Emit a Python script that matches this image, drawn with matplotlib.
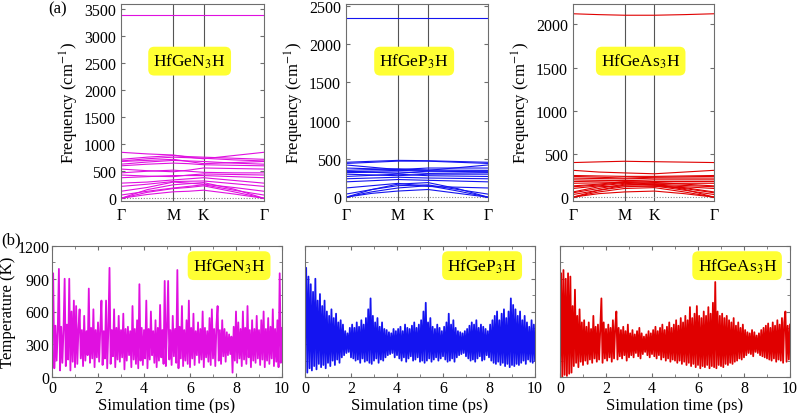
import numpy as np
import matplotlib
matplotlib.use("Agg")
import matplotlib.pyplot as plt
from matplotlib import font_manager
from matplotlib.ticker import MultipleLocator

serif_name = None
for p in font_manager.findSystemFonts():
    base = p.replace("\\", "/").split("/")[-1].lower()
    if "liberationserif" in base.replace("-", "").replace(" ", ""):
        try:
            font_manager.fontManager.addfont(p)
            if "regular" in base:
                serif_name = font_manager.FontProperties(fname=p).get_name()
        except Exception:
            pass
fams = ([serif_name] if serif_name else []) + ['Liberation Serif', 'DejaVu Serif']
plt.rcParams['font.family'] = 'serif'
plt.rcParams['font.serif'] = fams
plt.rcParams['mathtext.fontset'] = 'stix'

# ---------------- data ----------------
materials = ["HfGeN$_3$H", "HfGeP$_3$H", "HfGeAs$_3$H"]
colors = ["#e010e0", "#1414f0", "#e00000"]

kpath_labels = ["Γ", "M", "K", "Γ"]
# values given at: Γ, ΓM/2, M, MK/2, K, KΓ/2, Γ
bands_N3H = [
    [0, 70, 120, 130, 150, 80, 0],
    [0, 110, 180, 200, 230, 120, 0],
    [0, 160, 250, 270, 290, 170, 0],
    [60, 130, 190, 220, 250, 150, 60],
    [130, 200, 300, 280, 260, 200, 130],
    [220, 260, 310, 315, 320, 270, 220],
    [280, 300, 340, 360, 380, 330, 280],
    [380, 400, 420, 420, 420, 400, 380],
    [430, 410, 400, 430, 450, 440, 430],
    [470, 500, 520, 500, 480, 470, 470],
    [540, 510, 490, 520, 560, 550, 540],
    [600, 630, 650, 640, 620, 610, 600],
    [630, 670, 700, 690, 680, 650, 630],
    [680, 700, 720, 680, 640, 660, 680],
    [690, 730, 760, 750, 740, 710, 690],
    [720, 760, 790, 770, 760, 740, 720],
    [850, 820, 800, 760, 730, 790, 850],
    [3395, 3395, 3395, 3395, 3395, 3395, 3395],
]
bands_P3H = [
    [0, 50, 80, 90, 100, 50, 0],
    [0, 70, 120, 135, 150, 80, 0],
    [0, 100, 170, 180, 190, 110, 0],
    [40, 100, 150, 155, 160, 100, 40],
    [120, 150, 180, 160, 140, 130, 120],
    [200, 215, 230, 225, 220, 210, 200],
    [240, 250, 260, 255, 250, 245, 240],
    [270, 285, 300, 290, 280, 275, 270],
    [300, 290, 280, 290, 300, 300, 300],
    [320, 325, 330, 320, 310, 315, 320],
    [330, 340, 350, 345, 340, 335, 330],
    [340, 325, 310, 325, 340, 340, 340],
    [350, 360, 370, 360, 355, 352, 350],
    [380, 370, 360, 370, 380, 380, 380],
    [420, 390, 360, 355, 350, 385, 420],
    [440, 455, 470, 470, 470, 455, 440],
    [455, 468, 480, 478, 475, 465, 455],
    [2340, 2340, 2340, 2340, 2340, 2340, 2340],
]
bands_As3H = [
    [0, 40, 60, 65, 70, 40, 0],
    [0, 60, 100, 105, 110, 60, 0],
    [0, 80, 140, 145, 150, 90, 0],
    [30, 80, 120, 125, 130, 80, 30],
    [50, 100, 150, 145, 140, 100, 50],
    [60, 120, 130, 128, 125, 110, 60],
    [100, 130, 160, 150, 140, 120, 100],
    [120, 140, 170, 160, 150, 135, 120],
    [130, 150, 180, 175, 170, 150, 130],
    [160, 165, 170, 165, 160, 160, 160],
    [180, 185, 190, 185, 180, 180, 180],
    [200, 195, 190, 195, 200, 200, 200],
    [220, 215, 210, 215, 220, 220, 220],
    [240, 230, 220, 225, 230, 235, 240],
    [250, 245, 240, 240, 240, 245, 250],
    [310, 290, 280, 275, 270, 290, 310],
    [400, 408, 415, 412, 410, 405, 400],
    [2122, 2112, 2105, 2105, 2105, 2112, 2122],
]
freq_ylims = [(-50, 3590), (-50, 2520), (-45, 2235)]
freq_ymax_tick = [3500, 2500, 2000]

temp_N3H = [
    300, 950, 80, 470, 150, 420, 990, 60, 460, 130, 430, 900, 100, 480, 160, 900, 60, 600, 140, 700, 90,
    650, 120, 440, 620, 170, 430, 100, 560, 150, 420, 200, 810, 130, 450, 170, 620, 90, 430, 180, 500,
    140, 450, 700, 110, 420, 170, 700, 80, 440, 1000, 120, 430, 190, 620, 90, 450, 160, 560, 140, 430,
    180, 580, 70, 440, 150, 460, 200, 420, 90, 650, 160, 440, 120, 520, 80, 850, 150, 450, 110, 430,
    170, 700, 80, 440, 160, 600, 200, 420, 130, 520, 90, 450, 150, 660, 180, 430, 120, 880, 100, 450,
    880, 160, 430, 110, 560, 190, 440, 130, 980, 80, 460, 170, 650, 100, 430, 150, 520, 120, 700, 90,
    450, 170, 580, 110, 420, 200, 500, 130, 440, 160, 600, 90, 450, 180, 420, 140, 540, 110, 620, 170,
    440, 100, 480, 650, 150, 430, 120, 520, 190, 440, 140, 410, 200, 390, 210, 370, 40, 460, 150, 600,
    130, 500, 170, 440, 100, 600, 160, 450, 120, 650, 180, 430, 90, 520, 150, 440, 130, 560, 170, 430,
    110, 520, 160, 600, 90, 440, 150, 540, 120, 460, 170, 620, 100, 440, 140, 520, 90, 950, 130, 450,
]
temp_P3H = [
    300, 1000, 40, 920, 80, 850, 60, 780, 100, 900, 70, 700, 120, 760, 90, 650, 110, 700, 80, 600, 130,
    560, 100, 620, 150, 540, 110, 580, 160, 500, 130, 520, 180, 480, 200, 420, 220, 400, 230, 450, 180,
    480, 170, 450, 150, 500, 160, 460, 130, 520, 170, 480, 140, 540, 150, 620, 130, 720, 120, 560, 150,
    500, 170, 540, 130, 460, 160, 500, 150, 440, 180, 430, 200, 410, 210, 400, 220, 440, 180, 420, 200,
    440, 170, 460, 150, 420, 180, 480, 140, 450, 170, 440, 190, 470, 150, 500, 160, 450, 180, 480, 140,
    520, 150, 600, 130, 680, 150, 500, 170, 540, 140, 460, 160, 440, 180, 480, 150, 450, 170, 420, 190,
    460, 160, 500, 140, 580, 150, 480, 170, 520, 140, 450, 180, 420, 200, 410, 210, 400, 220, 420, 190,
    440, 170, 470, 150, 500, 160, 480, 140, 520, 170, 450, 190, 480, 150, 460, 160, 440, 200, 420, 180,
    480, 150, 520, 130, 560, 120, 600, 140, 520, 110, 580, 130, 620, 100, 540, 120, 600, 90, 720, 110,
    660, 100, 620, 120, 560, 110, 600, 130, 520, 150, 560, 120, 500, 160, 460, 140, 520, 130, 480, 150,
]
temp_As3H = [
    0, 950, 0, 980, 20, 900, 10, 950, 30, 920, 40, 650, 100, 800, 130, 560, 90, 620, 140, 500, 110,
    520, 150, 460, 120, 500, 160, 440, 130, 560, 170, 460, 140, 480, 160, 450, 720, 130, 500, 170, 440,
    150, 480, 180, 450, 140, 520, 170, 460, 600, 160, 450, 190, 430, 170, 460, 200, 420, 150, 480, 180,
    400, 200, 430, 180, 390, 220, 420, 190, 450, 170, 400, 210, 370, 230, 390, 200, 420, 180, 400, 210,
    430, 190, 460, 170, 420, 200, 450, 160, 480, 180, 430, 150, 460, 170, 500, 140, 450, 160, 480, 150,
    520, 130, 470, 150, 540, 120, 500, 140, 560, 110, 520, 130, 640, 100, 540, 120, 580, 90, 650, 110,
    560, 80, 540, 100, 600, 90, 560, 110, 640, 80, 580, 100, 680, 90, 870, 80, 600, 110, 560, 100,
    580, 90, 540, 120, 560, 110, 520, 130, 500, 120, 540, 140, 470, 150, 500, 170, 450, 160, 480, 180,
    430, 200, 410, 220, 400, 210, 430, 190, 410, 230, 380, 220, 400, 200, 430, 190, 450, 180, 470, 170,
    490, 160, 450, 150, 500, 170, 470, 140, 520, 160, 480, 150, 540, 130, 500, 600, 140, 470, 160, 480,
]
sim_time_max = 10.0

# ---------------- figure ----------------
W, H = 797, 414
fig = plt.figure(figsize=(W / 100, H / 100), dpi=100)

spine_col = "#6e6e6e"
FS_TICK = 11.5
FS_LAB = 12
box = dict(boxstyle="round,pad=0.3,rounding_size=0.35", fc="#ffff33", ec="none")

# k-path coordinates (Γ-M : M-K : K-Γ = 1/√3 : 1/3 : 2/3)
seg = np.array([1 / np.sqrt(3), 1 / 3, 2 / 3])
nodes = np.concatenate([[0], np.cumsum(seg)])
nodes = nodes / nodes[-1]
kx = np.array([nodes[0], (nodes[0] + nodes[1]) / 2, nodes[1], (nodes[1] + nodes[2]) / 2,
               nodes[2], (nodes[2] + nodes[3]) / 2, nodes[3]])

top_rects = [(121, 143), (346, 142), (573, 141)]
all_bands = [bands_N3H, bands_P3H, bands_As3H]
for i in range(3):
    l, w = top_rects[i]
    ax = fig.add_axes([l / W, (H - 202) / H, w / W, 197 / H])
    for b in all_bands[i]:
        ax.plot(kx, b, color=colors[i], lw=0.8)
    for xv in nodes[1:3]:
        ax.axvline(xv, color="#555555", lw=0.8, zorder=0)
    ax.axhline(0, color="#888888", lw=0.8, ls=(0, (1, 1.5)), zorder=0)
    ax.set_xlim(0, 1)
    ax.set_ylim(*freq_ylims[i])
    ax.set_xticks(nodes)
    ax.set_xticklabels(kpath_labels, fontsize=FS_TICK)
    ax.set_yticks(np.arange(0, freq_ymax_tick[i] + 1, 500))
    ax.tick_params(axis='y', direction='in', right=True, labelsize=FS_TICK, length=3,
                   color=spine_col)
    ax.tick_params(axis='x', length=0, pad=4)
    ax.set_ylabel("Frequency (cm$^{-1}$)", fontsize=FS_LAB, labelpad=2)
    for s in ax.spines.values():
        s.set_color(spine_col)
    ax.text(0.48, 0.71, materials[i], transform=ax.transAxes, ha="center", va="center",
            fontsize=12.5, bbox=box)

bot_lefts = [52, 305, 560]
temps = [temp_N3H, temp_P3H, temp_As3H]
for i in range(3):
    ax = fig.add_axes([bot_lefts[i] / W, (H - 378) / H, 230 / W, 131 / H])
    y = np.array(temps[i], dtype=float)
    t = np.linspace(0, sim_time_max, len(y))
    ax.plot(t, y, color=colors[i], lw=1.3)
    ax.set_xlim(0, 10)
    ax.set_ylim(0, 1200)
    ax.set_xticks(np.arange(0, 11, 2))
    ax.xaxis.set_minor_locator(MultipleLocator(1))
    ax.set_yticks(np.arange(0, 1201, 300))
    ax.yaxis.set_minor_locator(MultipleLocator(150))
    ax.tick_params(which='both', direction='in', top=True, right=True, labelsize=FS_TICK,
                   color=spine_col, pad=2)
    ax.tick_params(which='major', length=3)
    ax.tick_params(which='minor', length=2)
    if i == 0:
        ax.set_ylabel("Temperature (K)", fontsize=FS_LAB, labelpad=1)
    else:
        ax.set_yticklabels([])
    ax.set_xlabel("Simulation time (ps)", fontsize=FS_LAB, labelpad=1)
    for s in ax.spines.values():
        s.set_color(spine_col)
    ax.text(0.77, 0.85, materials[i], transform=ax.transAxes, ha="center", va="center",
            fontsize=12.5, bbox=box)

fig.text(58 / W, 1 - 9 / H, "(a)", fontsize=12, ha="center", va="center")
fig.text(1 / W, 1 - 240 / H, "(b)", fontsize=12, ha="left", va="center")

fig.savefig("out.png", dpi=100)
